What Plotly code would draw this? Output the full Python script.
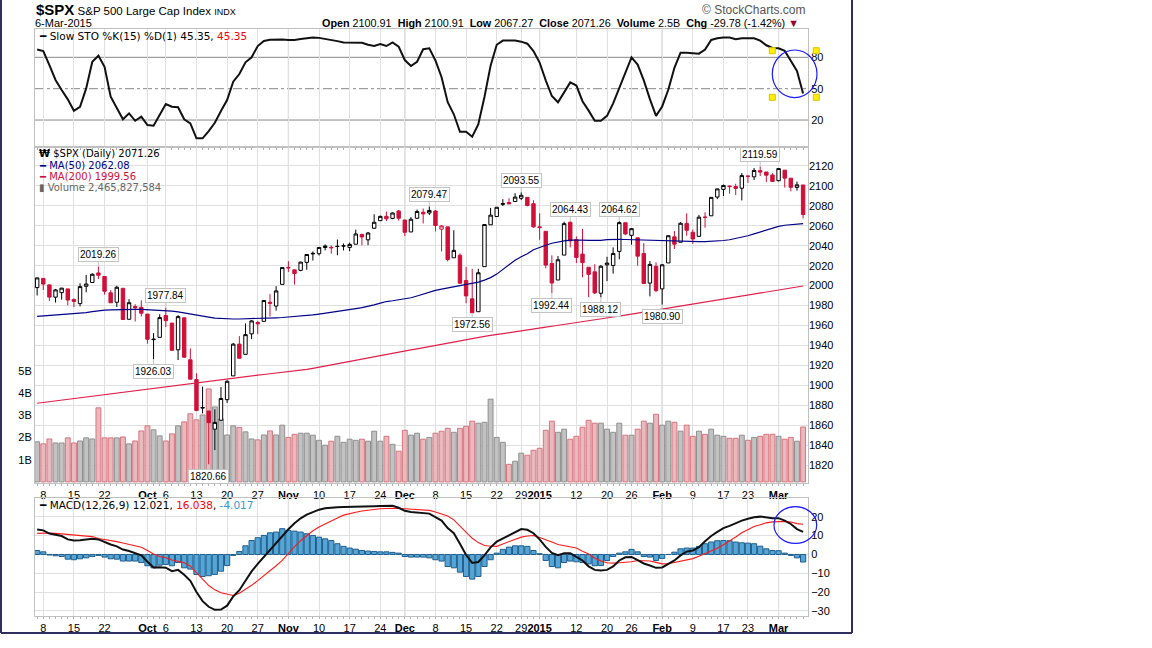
import plotly.graph_objects as go

W, H = 1152, 648

# trading days 5-Sep-2014 .. 6-Mar-2015, index 0..125
tick_idx = [1, 6, 11, 18, 21, 26, 31, 36, 41, 46, 51, 56, 60, 65, 70, 75, 79, 82,
            88, 93, 97, 102, 107, 112, 116, 121]
tick_text = ['8', '15', '22', '<b>Oct</b>', '6', '13', '20', '27', '<b>Nov</b>', '10',
             '17', '24', '<b>Dec</b>', '8', '15', '22', '29', '<b>2015</b>', '12', '20',
             '26', '<b>Feb</b>', '9', '17', '23', '<b>Mar</b>']
month_idx = [18, 41, 60, 82, 102, 121]

opens = [1998.0, 2007.2, 2000.7, 1988.4, 1992.9, 1996.7, 1986.0, 1981.9, 1999.3, 2003.1,
         2012.7, 2009.1, 1992.8, 1983.3, 1997.3, 1966.2, 1979.0, 1978.2, 1971.4, 1945.8,
         1948.1, 1970.0, 1962.4, 1935.6, 1967.7, 1925.6, 1905.7, 1877.1, 1874.2, 1856.0,
         1864.9, 1885.6, 1909.4, 1941.3, 1931.0, 1951.6, 1963.0, 1964.1, 1983.3, 1979.5,
         2001.2, 2018.2, 2015.8, 2015.3, 2023.3, 2032.4, 2032.0, 2038.2, 2037.8, 2039.2,
         2039.7, 2038.3, 2041.5, 2051.2, 2045.9, 2057.5, 2065.1, 2069.5, 2067.4, 2074.8,
         2065.8, 2053.8, 2067.5, 2073.6, 2072.8, 2074.8, 2056.6, 2058.9, 2027.9, 2030.4,
         2005.0, 1986.7, 1973.8, 2019.0, 2061.0, 2069.3, 2081.5, 2083.3, 2084.3, 2087.6,
         2088.5, 2082.1, 2058.9, 2054.4, 2022.2, 2005.6, 2030.6, 2063.5, 2046.1, 2031.6,
         2018.4, 2013.8, 1992.3, 2020.8, 2020.2, 2034.3, 2063.0, 2050.4, 2047.9, 2032.3,
         2002.5, 2019.4, 1996.7, 2022.7, 2048.9, 2043.5, 2062.3, 2053.5, 2049.4, 2068.6,
         2070.0, 2088.8, 2096.5, 2099.2, 2099.3, 2097.7, 2109.8, 2109.1, 2115.3, 2113.9,
         2110.9, 2105.2, 2115.8, 2107.7, 2098.5, 2100.91]
highs = [2007.7, 2007.2, 2001.0, 1996.7, 1997.7, 1996.7, 1987.2, 2002.3, 2010.7, 2012.3,
         2019.26, 2009.1, 1995.4, 1999.8, 1997.3, 1986.4, 1981.3, 1985.2, 1971.4, 1952.3,
         1971.2, 1977.84, 1962.4, 1970.4, 1967.7, 1937.0, 1912.1, 1898.7, 1874.2, 1876.0,
         1898.2, 1905.0, 1942.5, 1949.3, 1962.0, 1965.3, 1964.6, 1985.1, 1991.4, 1999.4,
         2018.2, 2024.5, 2016.0, 2023.8, 2031.6, 2034.3, 2038.7, 2041.3, 2040.3, 2046.2,
         2042.2, 2043.1, 2056.1, 2052.1, 2053.8, 2071.5, 2070.2, 2074.2, 2073.3, 2075.8,
         2065.8, 2068.8, 2076.3, 2077.3, 2079.47, 2075.8, 2060.6, 2058.9, 2055.5, 2032.3,
         2018.7, 2016.9, 2016.8, 2061.2, 2077.9, 2078.8, 2086.7, 2087.6, 2092.7, 2093.55,
         2088.5, 2085.6, 2072.4, 2054.4, 2030.3, 2029.6, 2064.1, 2064.43, 2049.3, 2056.9,
         2018.4, 2021.4, 2020.5, 2028.9, 2038.3, 2064.62, 2063.0, 2057.6, 2047.9, 2042.5,
         2024.6, 2023.3, 2021.7, 2050.3, 2054.7, 2063.6, 2072.4, 2056.2, 2070.9, 2073.5,
         2088.5, 2097.0, 2101.3, 2100.2, 2102.1, 2112.9, 2110.1, 2117.9, 2119.59, 2113.9,
         2112.7, 2117.5, 2115.8, 2107.7, 2104.3, 2100.91]
lows = [1990.1, 1995.6, 1984.6, 1983.0, 1985.9, 1980.3, 1978.5, 1979.1, 1993.3, 2003.1,
        2006.6, 1991.0, 1982.8, 1978.6, 1966.0, 1966.2, 1964.0, 1969.0, 1941.7, 1926.03,
        1948.1, 1958.4, 1934.9, 1925.3, 1927.6, 1906.1, 1874.1, 1871.8, 1820.66, 1835.0,
        1864.9, 1882.3, 1909.4, 1926.8, 1931.0, 1946.3, 1951.4, 1964.1, 1969.0, 1974.8,
        2001.2, 2013.7, 2001.0, 2014.4, 2015.9, 2025.1, 2030.2, 2035.3, 2032.0, 2030.4,
        2035.2, 2034.5, 2041.5, 2040.4, 2040.5, 2056.8, 2065.1, 2064.8, 2066.6, 2065.1,
        2049.6, 2053.8, 2066.7, 2062.3, 2070.8, 2054.3, 2034.2, 2024.3, 2027.9, 2002.3,
        1982.3, 1972.56, 1973.8, 2019.0, 2061.0, 2069.3, 2079.8, 2081.9, 2084.3, 2085.8,
        2079.5, 2057.9, 2046.0, 2017.3, 1992.44, 2005.6, 2030.6, 2038.3, 2022.6, 2008.3,
        1988.4, 1991.5, 1988.12, 2004.5, 2012.0, 2026.4, 2050.5, 2041.0, 2019.9, 2001.5,
        1989.2, 1993.4, 1980.90, 2022.7, 2036.7, 2043.5, 2050.0, 2041.9, 2048.6, 2058.0,
        2070.0, 2086.7, 2089.8, 2092.2, 2090.8, 2085.4, 2103.0, 2105.9, 2109.9, 2103.8,
        2103.8, 2104.5, 2098.3, 2094.5, 2095.2, 2067.27]
closes = [2007.71, 2001.54, 1988.44, 1995.69, 1997.45, 1985.54, 1984.13, 1998.98, 2001.57, 2011.36,
          2010.40, 1994.29, 1982.77, 1998.30, 1965.99, 1982.85, 1977.80, 1972.29, 1946.16, 1946.17,
          1967.90, 1964.82, 1935.10, 1968.89, 1928.21, 1906.13, 1874.74, 1877.70, 1862.49, 1862.76,
          1886.76, 1904.01, 1941.28, 1927.11, 1950.82, 1964.58, 1961.63, 1985.05, 1982.30, 1994.65,
          2018.05, 2017.81, 2012.10, 2023.57, 2031.21, 2031.92, 2038.26, 2039.68, 2038.25, 2039.33,
          2039.82, 2041.32, 2051.80, 2048.72, 2052.75, 2063.50, 2069.41, 2067.03, 2072.83, 2067.56,
          2053.44, 2066.55, 2074.33, 2071.92, 2075.37, 2060.31, 2059.82, 2026.14, 2035.33, 2002.33,
          1989.63, 1972.74, 2012.89, 2061.23, 2070.65, 2078.54, 2082.17, 2081.88, 2088.77, 2090.57,
          2080.35, 2058.90, 2058.20, 2020.58, 2002.61, 2025.90, 2062.14, 2044.81, 2028.26, 2023.03,
          2011.27, 1992.67, 2019.42, 2022.55, 2032.12, 2063.15, 2051.82, 2057.09, 2029.55, 2002.16,
          2021.25, 1994.99, 2020.85, 2050.03, 2041.51, 2062.52, 2055.47, 2046.74, 2068.59, 2068.53,
          2088.48, 2096.99, 2100.34, 2099.68, 2097.45, 2110.30, 2109.66, 2115.48, 2113.86, 2110.74,
          2104.50, 2117.39, 2107.78, 2098.53, 2101.04, 2071.26]
# volume in billions
volume_b = [1.80, 1.71, 1.93, 1.75, 1.75, 1.98, 1.75, 1.84, 1.98, 1.93,
            3.33, 1.98, 1.98, 1.98, 2.02, 1.71, 1.84, 2.29, 2.52, 2.34,
            2.07, 1.84, 2.16, 2.52, 2.70, 3.06, 2.79, 3.01, 4.18, 3.37,
            2.83, 2.11, 2.52, 2.45, 2.25, 1.93, 1.89, 2.11, 2.29, 2.11,
            2.55, 2.00, 2.14, 2.19, 2.19, 2.10, 1.87, 1.65, 1.83, 2.05,
            1.78, 1.92, 1.87, 1.92, 1.83, 2.28, 1.83, 2.05, 1.69, 1.38,
            2.32, 2.10, 2.19, 1.92, 2.00, 2.19, 2.28, 2.41, 2.23, 2.41,
            2.50, 2.73, 2.64, 2.68, 3.72, 2.00, 1.78, 0.79, 0.93, 1.29,
            1.20, 1.42, 1.51, 2.32, 2.73, 2.23, 2.37, 1.92, 2.05, 2.46,
            2.77, 2.64, 2.64, 2.37, 2.23, 2.64, 2.10, 2.10, 2.37, 2.73,
            2.64, 3.04, 2.55, 2.73, 2.68, 2.28, 2.55, 2.05, 2.28, 2.14,
            2.37, 2.10, 2.05, 1.96, 1.96, 2.10, 1.87, 2.00, 2.05, 2.14,
            2.14, 2.05, 1.92, 2.00, 1.83, 2.466]
last_volume = 2465827584
ma50 = [1969.2, 1969.6, 1970.0, 1970.4, 1970.8, 1971.2, 1971.6, 1972.0, 1972.8, 1973.8,
        1974.8, 1975.4, 1975.7, 1976.0, 1976.1, 1976.2, 1976.2, 1976.1, 1975.9, 1975.6,
        1975.3, 1975.0, 1974.4, 1973.6, 1972.7, 1971.7, 1970.6, 1969.5, 1968.4, 1967.4,
        1966.9, 1966.6, 1966.5, 1966.5, 1966.6, 1966.7, 1966.9, 1967.1, 1967.4, 1967.7,
        1968.0, 1968.4, 1968.8, 1969.1, 1969.8, 1970.6, 1971.4, 1972.2, 1973.1, 1974.0,
        1975.0, 1975.9, 1976.9, 1977.9, 1979.0, 1980.6, 1982.4, 1984.0, 1984.8, 1985.6,
        1986.4, 1987.8, 1989.6, 1991.6, 1993.5, 1995.2, 1996.4, 1997.6, 1998.9, 1999.9,
        2000.9, 2002.0, 2003.5, 2005.5, 2008.0, 2011.5, 2016.0, 2021.0, 2025.5, 2029.0,
        2032.0, 2036.0, 2038.5, 2040.5, 2042.5, 2043.8, 2044.8, 2045.5, 2045.8, 2045.6,
        2045.3, 2045.1, 2045.4, 2046.0, 2046.5, 2046.4, 2046.2, 2046.0, 2045.7, 2045.3,
        2044.9, 2044.7, 2044.5, 2044.3, 2044.2, 2044.1, 2044.0, 2044.0, 2044.0, 2044.1,
        2044.3, 2044.7, 2045.2, 2046.0, 2047.2, 2048.4, 2050.0, 2051.8, 2053.7, 2055.6,
        2057.5, 2059.4, 2060.5, 2061.2, 2061.8, 2062.08]
ma200 = [1882.0, 1882.8, 1883.6, 1884.4, 1885.2, 1886.0, 1886.8, 1887.6, 1888.4, 1889.2,
         1890.0, 1890.8, 1891.6, 1892.4, 1893.2, 1894.0, 1894.8, 1895.6, 1896.4, 1897.2,
         1898.0, 1898.8, 1899.6, 1900.4, 1901.2, 1902.0, 1902.8, 1903.6, 1904.4, 1905.2,
         1906.0, 1906.8, 1907.7, 1908.3, 1908.9, 1909.6, 1910.2, 1910.8, 1911.5, 1912.1,
         1912.8, 1913.4, 1914.1, 1914.7, 1915.9, 1917.0, 1918.2, 1919.3, 1920.5, 1921.6,
         1922.8, 1923.9, 1925.1, 1926.3, 1927.4, 1928.6, 1929.7, 1930.9, 1932.0, 1933.2,
         1934.3, 1935.5, 1936.6, 1937.8, 1938.9, 1940.1, 1941.3, 1942.4, 1943.6, 1944.7,
         1945.9, 1947.0, 1948.2, 1949.1, 1950.0, 1951.0, 1951.9, 1952.8, 1953.7, 1954.6,
         1955.6, 1956.5, 1957.4, 1958.3, 1959.2, 1960.2, 1961.1, 1962.0, 1962.9, 1963.8,
         1964.8, 1965.7, 1966.6, 1967.5, 1968.5, 1969.4, 1970.4, 1971.3, 1972.3, 1973.2,
         1974.2, 1975.1, 1976.1, 1977.1, 1978.0, 1979.0, 1979.9, 1980.9, 1981.9, 1982.9,
         1983.9, 1985.0, 1986.0, 1987.1, 1988.1, 1989.1, 1990.2, 1991.2, 1992.3, 1993.3,
         1994.4, 1995.4, 1996.4, 1997.5, 1998.5, 1999.56]
sto_k = [87.5, 86.0, 72.6, 58.3, 48.7, 39.8, 28.9, 32.7, 50.3, 75.8,
         81.5, 71.0, 42.3, 31.2, 20.7, 26.4, 19.3, 23.2, 15.2, 14.5,
         24.8, 35.3, 32.7, 32.2, 20.7, 16.8, 2.5, 2.5, 9.5, 17.4,
         28.6, 39.1, 56.7, 64.0, 75.2, 80.0, 90.8, 95.6, 96.8, 97.2,
         97.0, 96.6, 96.6, 97.5, 98.5, 99.0, 98.6, 97.8, 96.8, 95.5,
         94.2, 94.0, 94.0, 94.0, 92.0, 90.8, 92.7, 90.8, 94.3, 90.2,
         77.4, 71.7, 75.8, 87.7, 88.6, 77.0, 61.0, 37.0, 25.5, 8.8,
         8.8, 4.0, 16.0, 42.0, 72.0, 92.0, 96.0, 96.0, 96.0, 95.0,
         93.0, 86.0, 75.0, 58.0, 43.0, 37.0, 47.0, 56.0, 53.0, 38.0,
         29.0, 19.3, 19.3, 24.0, 36.0, 51.0, 66.0, 80.0, 73.0, 58.0,
         40.0, 24.0, 33.0, 49.0, 70.0, 84.4, 84.4, 83.8, 83.5, 87.5,
         96.6, 98.2, 99.0, 99.0, 97.3, 98.2, 98.2, 98.2, 96.0, 91.5,
         89.0, 88.6, 86.3, 77.0, 67.0, 45.35]
macd = [13.3, 12.8, 11.1, 10.5, 9.8, 8.0, 7.4, 7.5, 7.9, 8.4,
        8.0, 6.6, 5.3, 4.3, 2.6, 1.8, 0.8, -0.5, -3.9, -6.9,
        -6.8, -7.0, -8.9, -8.2, -10.8, -14.0, -20.0, -24.8, -27.8, -29.4,
        -29.3, -27.2, -22.3, -19.0, -14.0, -9.0, -5.0, -1.3, 2.8, 6.3,
        10.0, 13.4, 16.6, 19.2, 21.2, 22.7, 23.8, 24.6, 25.0, 25.1,
        25.2, 25.2, 25.2, 25.2, 25.4, 25.6, 25.7, 25.8, 25.9, 24.8,
        23.2, 22.6, 22.3, 22.1, 21.7, 19.8, 18.0, 14.0, 11.3, 5.7,
        -0.3, -4.5, -4.0, -0.5, 3.8, 6.8, 8.5, 10.5, 12.2, 13.5,
        13.1, 11.3, 8.0, 4.0, 0.8, -0.4, 0.7, 0.7, -1.3, -3.2,
        -6.3, -8.2, -8.5, -8.2, -6.4, -3.2, -1.5, -1.3, -3.0, -4.8,
        -5.9, -7.1, -6.9, -5.0, -3.2, -0.5, 1.5, 2.1, 3.9, 7.0,
        9.8, 12.0, 14.0, 15.2, 16.8, 18.0, 19.0, 19.8, 20.1, 19.6,
        19.3, 19.3, 18.0, 16.2, 13.5, 12.021]
macd_signal = [11.2, 11.4, 11.4, 11.2, 10.9, 10.5, 10.2, 9.8, 9.7, 9.5,
               8.5, 8.0, 7.6, 6.8, 6.1, 5.3, 4.3, 3.8, 2.1, 0.2,
               -1.1, -1.7, -2.9, -3.6, -4.4, -6.2, -9.4, -13.1, -16.5, -18.8,
               -20.4, -21.3, -21.8, -20.6, -18.6, -16.4, -13.9, -11.4, -8.7, -6.0,
               -3.2, 0.6, 4.2, 7.3, 10.2, 12.6, 14.6, 16.3, 17.6, 19.4,
               20.9, 21.8, 22.4, 23.1, 23.6, 24.0, 24.3, 24.4, 24.6, 24.5,
               24.3, 24.0, 23.7, 23.5, 23.4, 22.6, 21.5, 20.4, 18.4, 15.1,
               11.4, 8.6, 6.3, 4.8, 4.4, 4.3, 5.6, 6.8, 8.3, 9.2,
               9.8, 10.1, 9.0, 7.6, 6.6, 5.3, 4.6, 4.0, 3.4, 1.7,
               0.2, -1.9, -3.5, -4.4, -4.6, -4.4, -4.1, -3.9, -3.2, -3.4,
               -3.5, -4.2, -5.0, -4.9, -4.3, -3.5, -2.8, -2.2, -1.0, 0.3,
               1.6, 3.3, 5.2, 7.1, 9.3, 11.5, 13.0, 14.9, 15.8, 16.8,
               17.3, 17.6, 17.6, 17.2, 16.4, 16.038]
macd_hist = [2.1, 1.4, -0.3, -0.7, -1.1, -2.5, -2.8, -2.3, -1.8, -1.1,
             -0.5, -1.4, -2.3, -2.5, -3.5, -3.5, -3.5, -4.3, -6.0, -7.1,
             -5.7, -5.3, -6.0, -4.3, -7.1, -7.8, -10.6, -11.7, -11.3, -10.6,
             -8.9, -5.9, -0.5, 1.6, 4.6, 7.4, 8.9, 10.1, 11.5, 11.9,
             13.7, 12.8, 12.4, 11.9, 11.0, 10.1, 9.2, 8.3, 7.4, 5.7,
             4.3, 3.4, 2.8, 2.1, 1.8, 1.6, 1.4, 1.4, 1.1, 0.7,
             -1.1, -1.4, -1.4, -1.4, -1.8, -2.8, -3.5, -6.4, -7.1, -9.4,
             -11.7, -13.1, -11.7, -6.4, -2.8, 0.7, 2.7, 3.9, 4.6, 4.6,
             4.3, 2.1, 0.4, -3.2, -6.4, -7.1, -4.3, -3.5, -3.9, -4.3,
             -5.0, -6.0, -5.9, -3.2, -1.1, 0.7, 1.4, 2.7, 1.4, -1.1,
             -1.4, -3.2, -2.1, 0.0, 1.2, 3.0, 3.4, 3.4, 4.3, 5.7,
             6.6, 7.3, 7.4, 7.3, 6.6, 6.2, 6.0, 5.7, 4.4, 3.0,
             2.1, 2.0, 0.7, -0.5, -1.8, -4.017]

high_marks = [10, 21, 64, 79, 87, 95, 118]
low_marks = [19, 28, 71, 84, 92, 102]
sto_levels = [20, 50, 80]

n = len(closes)
for arr in (opens, highs, lows, volume_b, ma50, ma200, sto_k, macd, macd_signal, macd_hist):
    assert len(arr) == n, len(arr)
x = list(range(n))

RED = '#d0103a'


def px(v):
    return v / W


def py(v):
    return 1 - v / H


# StockCharts colouring: black if close >= previous close, red otherwise
up = [closes[i] >= (closes[i - 1] if i else opens[i]) for i in x]
blk = [i for i in x if up[i]]
red = [i for i in x if not up[i]]

fig = go.Figure()

# volume on the base price-panel axis so candles sit on top
fig.add_trace(go.Bar(
    x=x, y=volume_b, xaxis='x2', yaxis='y2', width=0.8,
    marker=dict(color=['#c2c2c2' if u else '#e8b9bd' for u in up],
                line=dict(color=['#8f8f8f' if u else '#d8747f' for u in up], width=1)),
    hoverinfo='skip'))

for idx, col in ((blk, 'black'), (red, RED)):
    fig.add_trace(go.Candlestick(
        x=idx, open=[opens[i] for i in idx], high=[highs[i] for i in idx],
        low=[lows[i] for i in idx], close=[closes[i] for i in idx],
        xaxis='x2', yaxis='y4', whiskerwidth=0,
        increasing=dict(line=dict(color=col, width=1), fillcolor='white'),
        decreasing=dict(line=dict(color=col, width=1), fillcolor=col),
        hoverinfo='skip'))

fig.add_trace(go.Scatter(x=x, y=ma50, xaxis='x2', yaxis='y4', mode='lines',
                         line=dict(color='#000088', width=1.2), hoverinfo='skip'))
fig.add_trace(go.Scatter(x=x, y=ma200, xaxis='x2', yaxis='y4', mode='lines',
                         line=dict(color='#e0204a', width=1.2), hoverinfo='skip'))

# stochastics
fig.add_trace(go.Scatter(x=x, y=sto_k, xaxis='x', yaxis='y', mode='lines',
                         line=dict(color='#111111', width=2), hoverinfo='skip'))

# MACD
fig.add_trace(go.Bar(x=x, y=macd_hist, xaxis='x3', yaxis='y3', width=0.85,
                     marker=dict(color='#55a6d6', line=dict(color='#1f5d8c', width=1)),
                     hoverinfo='skip'))
fig.add_trace(go.Scatter(x=x, y=macd_signal, xaxis='x3', yaxis='y3', mode='lines',
                         line=dict(color='#ff1a1a', width=1.1), hoverinfo='skip'))
fig.add_trace(go.Scatter(x=x, y=macd, xaxis='x3', yaxis='y3', mode='lines',
                         line=dict(color='#111111', width=2), hoverinfo='skip'))

xdom = [px(35), px(808)]
tickfont = dict(family='Liberation Sans', size=11, color='black')
xbase = dict(domain=xdom, range=[-0.35, 125.8], tickvals=tick_idx, ticktext=tick_text,
             tickangle=0, showgrid=True, gridcolor='#e0e0e0', zeroline=False, showline=True,
             mirror=True, linecolor='#c0c0c0', ticks='outside', ticklen=2,
             tickcolor='#b0b0b0', tickfont=tickfont, fixedrange=True,
             minor=dict(dtick=1, tick0=0, ticks='outside', ticklen=2, tickcolor='#b0b0b0'))
ybase = dict(zeroline=False, showline=True, mirror=True, linecolor='#c0c0c0',
             tickfont=tickfont, ticks='', fixedrange=True)

shapes = []
# darker month separators
for xr, yr in (('x', 'y domain'), ('x2', 'y2 domain'), ('x3', 'y3 domain')):
    for m in month_idx:
        shapes.append(dict(type='line', xref=xr, yref=yr, x0=m, x1=m, y0=0, y1=1,
                           line=dict(color='#b4b4b4', width=1), layer='below'))
for lv in sto_levels:
    shapes.append(dict(type='line', xref='x domain', yref='y', x0=0, x1=1, y0=lv, y1=lv,
                       line=dict(color='#888888', width=1,
                                 dash='dashdot' if lv == 50 else 'solid'),
                       layer='below'))

# hand-drawn markup on the original
for sx, sy in ((772.3, 50.7), (816.3, 50.7), (772.3, 97.3), (816.3, 97.3)):
    shapes.append(dict(type='rect', xref='paper', yref='paper',
                       x0=px(sx - 3), x1=px(sx + 3), y0=py(sy + 3), y1=py(sy - 3),
                       fillcolor='#ffee00', line=dict(color='#e0c400', width=1)))
shapes.append(dict(type='circle', xref='paper', yref='paper', x0=px(772.3), x1=px(817),
                   y0=py(97.7), y1=py(50), line=dict(color='#1a1aff', width=1.2)))
shapes.append(dict(type='circle', xref='paper', yref='paper', x0=px(774), x1=px(816.7),
                   y0=py(543.3), y1=py(506.7), line=dict(color='#1a1aff', width=1.2)))

# outer frame
for x0, y0, x1, y1 in ((1, 0, 1, 633), (1, 633, 852, 633), (852, 0, 852, 633)):
    shapes.append(dict(type='line', xref='paper', yref='paper', x0=px(x0), x1=px(x1),
                       y0=py(y0), y1=py(y1), line=dict(color='#2d2f5e', width=2)))

ann = []


def label(xp, yp, text, size=10.5, color='black', family='DejaVu Sans', xanchor='left'):
    ann.append(dict(xref='paper', yref='paper', x=px(xp), y=py(yp), text=text,
                    showarrow=False, xanchor=xanchor, yanchor='middle',
                    font=dict(size=size, color=color, family=family)))


label(34, 10, "<span style='font-size:15px'><b>$SPX</b></span> S&amp;P 500 Large Cap Index "
      "<span style='font-size:9px'>INDX</span>", size=11.5, family='Liberation Sans')
label(33, 23.5, '6-Mar-2015', size=11, family='Liberation Sans')
chg = closes[-1] - closes[-2]
pct = chg / closes[-2] * 100
label(801, 23.5,
      f"<b>Open</b> {opens[-1]:.2f}&nbsp; <b>High</b> {highs[-1]:.2f}&nbsp; "
      f"<b>Low</b> {lows[-1]:.2f}&nbsp; <b>Close</b> {closes[-1]:.2f}&nbsp; "
      f"<b>Volume</b> {volume_b[-1]:.1f}B&nbsp; <b>Chg</b> {chg:.2f} ({pct:.2f}%) "
      f"<span style='color:#990033'>▼</span>",
      size=10.8, family='Liberation Sans', xanchor='right')
label(808, 10, '© StockCharts.com', size=12, color='#555555', family='Liberation Sans',
      xanchor='right')

label(37, 36, f"━ Slow STO %K(15) %D(1) {sto_k[-1]:.2f}, "
      f"<span style='color:#ff0000'>{sto_k[-1]:.2f}</span>", size=10.5)
label(37, 154, f"<b>₩</b> $SPX (Daily) {closes[-1]:.2f}", size=10)
label(37, 165.5, f"━ MA(50) {ma50[-1]:.2f}", size=10, color='#000088')
label(37, 176.5, f"━ MA(200) {ma200[-1]:.2f}", size=10, color='#cc1040')
label(37, 187, f"▮ Volume {last_volume:,}", size=10, color='#666666')
label(37, 505, f"━ MACD(12,26,9) {macd[-1]:.3f}, "
      f"<span style='color:#ff0000'>{macd_signal[-1]:.3f}</span>, "
      f"<span style='color:#3399cc'>{macd_hist[-1]:.3f}</span>", size=10.5)

for i in high_marks:
    ann.append(dict(xref='x2', yref='y4', x=i, y=highs[i], text=f"{highs[i]:.2f}",
                    showarrow=True, arrowhead=0, arrowwidth=1, arrowcolor='#c4c4c4',
                    ax=0, ay=-12, bgcolor='white', bordercolor='#c4c4c4', borderwidth=1,
                    borderpad=1, font=dict(family='Liberation Sans', size=10, color='black')))
for i in low_marks:
    ann.append(dict(xref='x2', yref='y4', x=i, y=lows[i], text=f"{lows[i]:.2f}",
                    showarrow=True, arrowhead=0, arrowwidth=1, arrowcolor='#c4c4c4',
                    ax=0, ay=12, bgcolor='white', bordercolor='#c4c4c4', borderwidth=1,
                    borderpad=1, font=dict(family='Liberation Sans', size=10, color='black')))

fig.update_layout(
    width=W, height=H, margin=dict(l=0, r=0, t=0, b=0),
    paper_bgcolor='white', plot_bgcolor='white', showlegend=False,
    barmode='overlay', boxgap=0.2, hovermode=False,
    font=dict(family='Liberation Sans', size=11, color='black'),
    xaxis=dict(xbase, anchor='y', showticklabels=False, ticks=''),
    xaxis2=dict(xbase, anchor='y2', rangeslider=dict(visible=False)),
    xaxis3=dict(xbase, anchor='y3'),
    yaxis=dict(ybase, domain=[py(146.7), py(29.3)], anchor='x', side='right',
               range=[-5.5, 106.8], tickvals=sto_levels, showgrid=False),
    yaxis2=dict(ybase, domain=[py(483), py(147)], anchor='x2', side='left',
                range=[-0.05, 15.06], tickvals=[1, 2, 3, 4, 5],
                ticktext=['1B', '2B', '3B', '4B', '5B'], showgrid=False),
    yaxis4=dict(ybase, overlaying='y2', anchor='x2', side='right', showline=False,
                range=[1802, 2139], tickvals=list(range(1820, 2121, 20)),
                showgrid=True, gridcolor='#e0e0e0'),
    yaxis3=dict(ybase, domain=[py(616), py(498)], anchor='x3', side='right',
                range=[-32.7, 30], tickvals=[-30, -20, -10, 0, 10, 20],
                showgrid=True, gridcolor='#e0e0e0'),
    shapes=shapes, annotations=ann,
)

fig.write_html("out.html", config={'displayModeBar': False},
               post_script="document.body.style.margin='0';")
